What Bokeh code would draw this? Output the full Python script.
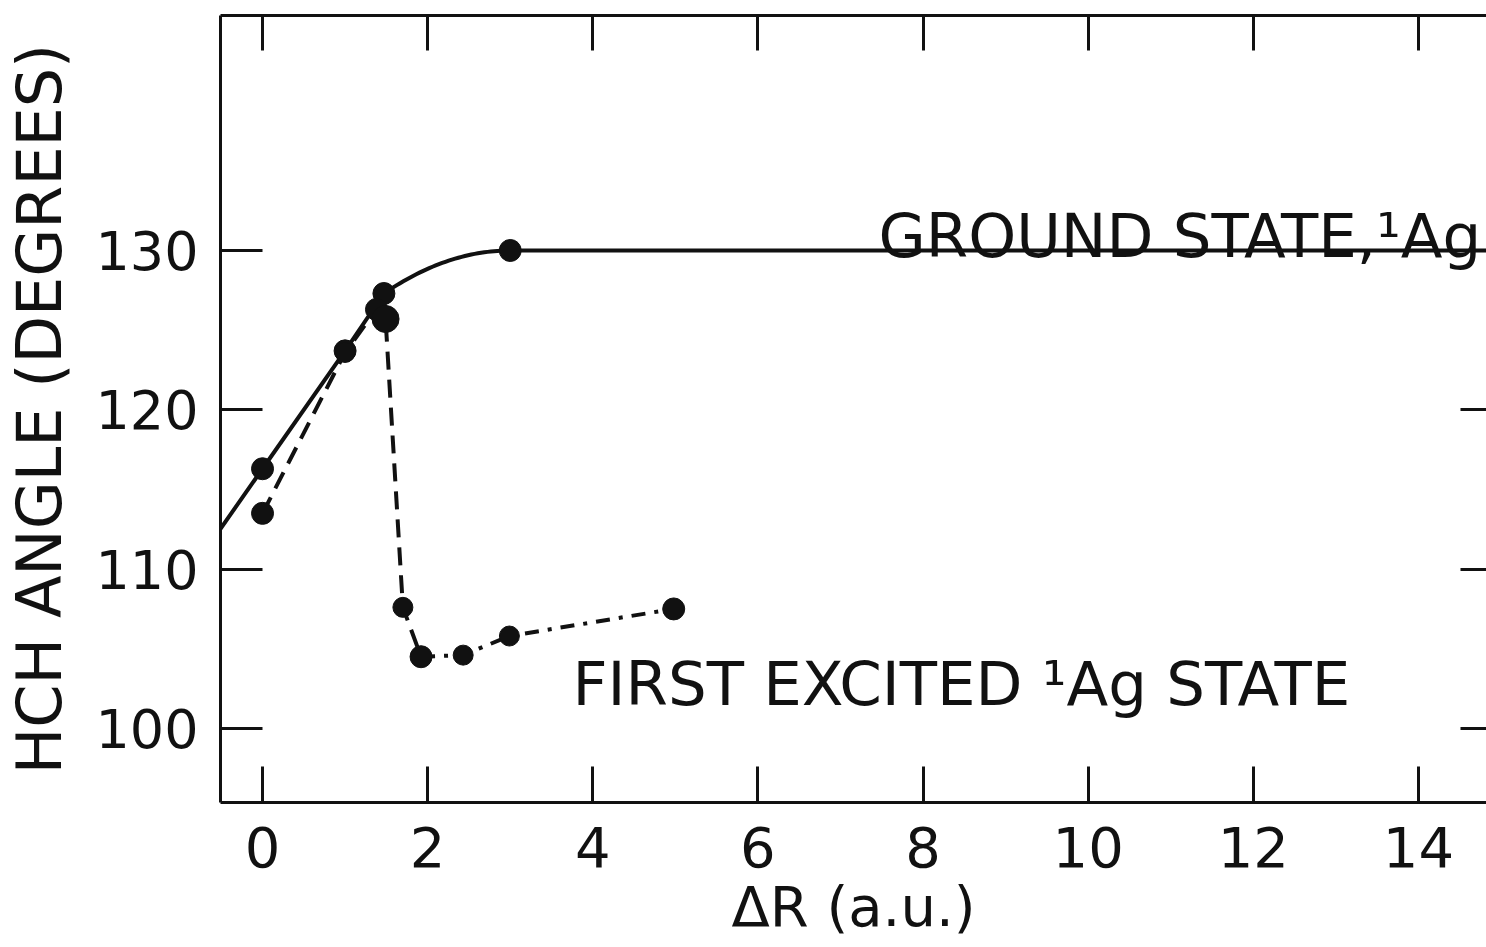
import numpy as np
from bokeh.plotting import figure
from bokeh.models import LinearAxis, Range1d, FixedTicker, Label, CustomLabelingPolicy
from bokeh.embed import file_html
from bokeh.resources import INLINE

# ---- data ----
ground_x = [0.0, 1.0, 1.47, 3.0]
ground_y = [116.3, 123.7, 127.3, 130.0]

excited_x = [0.0, 1.0, 1.38, 1.49, 1.70, 1.92, 2.43, 2.99, 4.98]
excited_y = [113.5, 123.6, 126.3, 125.7, 107.6, 104.5, 104.6, 105.8, 107.5]
excited_size = [22, 20, 22, 27, 20, 22, 20, 20, 22]

x_ticks = [0, 2, 4, 6, 8, 10, 12, 14]
y_ticks = [100, 110, 120, 130]

X_START, X_END = -0.509, 14.824
Y_START, Y_END = 95.35, 144.75

FONT = "DejaVu Sans"

p = figure(width=1486, height=947, output_backend="svg", toolbar_location=None,
           x_range=Range1d(X_START, X_END), y_range=Range1d(Y_START, Y_END))
p.min_border_left = 220
p.min_border_right = 0
p.min_border_top = 15
p.min_border_bottom = 145
p.outline_line_color = None
p.xgrid.visible = False
p.ygrid.visible = False
p.background_fill_color = "white"
p.border_fill_color = "white"

BLACK = "#111111"

def style_axis(ax, tick_in, show_labels):
    ax.major_tick_in = tick_in
    ax.major_tick_out = 0
    ax.minor_tick_line_color = None
    ax.axis_line_width = 3
    ax.axis_line_color = BLACK
    ax.major_tick_line_width = 3
    ax.major_tick_line_color = BLACK
    ax.major_label_text_font = FONT
    ax.major_label_text_color = BLACK
    if not show_labels:
        ax.major_label_policy = CustomLabelingPolicy(code="return []")
        ax.major_label_text_font_size = "0px"
        ax.major_label_standoff = 0

# bottom axis
xb = p.xaxis[0]
xb.ticker = FixedTicker(ticks=x_ticks)
style_axis(xb, 36, True)
xb.major_label_text_font_size = "56px"
xb.major_label_standoff = 24
xb.axis_label = "ΔR (a.u.)"
xb.axis_label_text_font = FONT
xb.axis_label_text_font_size = "56px"
xb.axis_label_text_font_style = "normal"
xb.axis_label_text_color = BLACK
xb.axis_label_standoff = 4

# left axis
yl = p.yaxis[0]
yl.ticker = FixedTicker(ticks=y_ticks)
style_axis(yl, 42, True)
yl.major_label_text_font_size = "54px"
yl.major_label_standoff = 22
yl.axis_label = "HCH ANGLE (DEGREES)"
yl.axis_label_text_font = FONT
yl.axis_label_text_font_size = "62px"
yl.axis_label_text_font_style = "normal"
yl.axis_label_text_color = BLACK
yl.axis_label_standoff = 16

# top axis (ticks only)
xt = LinearAxis(ticker=FixedTicker(ticks=x_ticks))
style_axis(xt, 35, False)
p.add_layout(xt, "above")

# right axis (ticks only)
yr = LinearAxis(ticker=FixedTicker(ticks=y_ticks))
style_axis(yr, 26, False)
yr.axis_line_color = None
p.add_layout(yr, "right")

# ---- ground-state curve: straight segments, parabolic approach to plateau, flat afterwards ----
gx = np.array(ground_x)
gy = np.array(ground_y)
slope0 = (gy[1] - gy[0]) / (gx[1] - gx[0])
curve_x = [X_START] + list(gx[:-1])
curve_y = [gy[0] + slope0 * (X_START - gx[0])] + list(gy[:-1])
t = np.linspace(gx[-2], gx[-1], 40)[1:]
curve_x += list(t)
curve_y += list(gy[-1] - (gy[-1] - gy[-2]) * ((gx[-1] - t) / (gx[-1] - gx[-2])) ** 2)
curve_x.append(X_END + 0.5)
curve_y.append(gy[-1])
p.line(curve_x, curve_y, line_color=BLACK, line_width=4)
p.scatter(ground_x, ground_y, size=22, fill_color=BLACK, line_color=BLACK)

# ---- first excited state ----
split = 5
p.line(excited_x[:split + 1], excited_y[:split + 1], line_color=BLACK, line_width=4,
       line_dash="18 10")
p.line(excited_x[split:], excited_y[split:], line_color=BLACK, line_width=4,
       line_dash="14 9 4 9")
p.scatter(excited_x, excited_y, size=excited_size, fill_color=BLACK, line_color=BLACK)

# ---- annotations ----
p.add_layout(Label(x=7.46, y=130.94, text="GROUND STATE,¹Ag", text_font=FONT,
                   text_font_size="61px", text_color=BLACK, text_baseline="alphabetic",
                   text_align="left"))
p.add_layout(Label(x=3.754, y=102.82, text="FIRST EXCITED ¹Ag STATE", text_font=FONT,
                   text_font_size="61px", text_color=BLACK, text_baseline="alphabetic",
                   text_align="left"))

open("out.html", "w").write(file_html(p, INLINE))
